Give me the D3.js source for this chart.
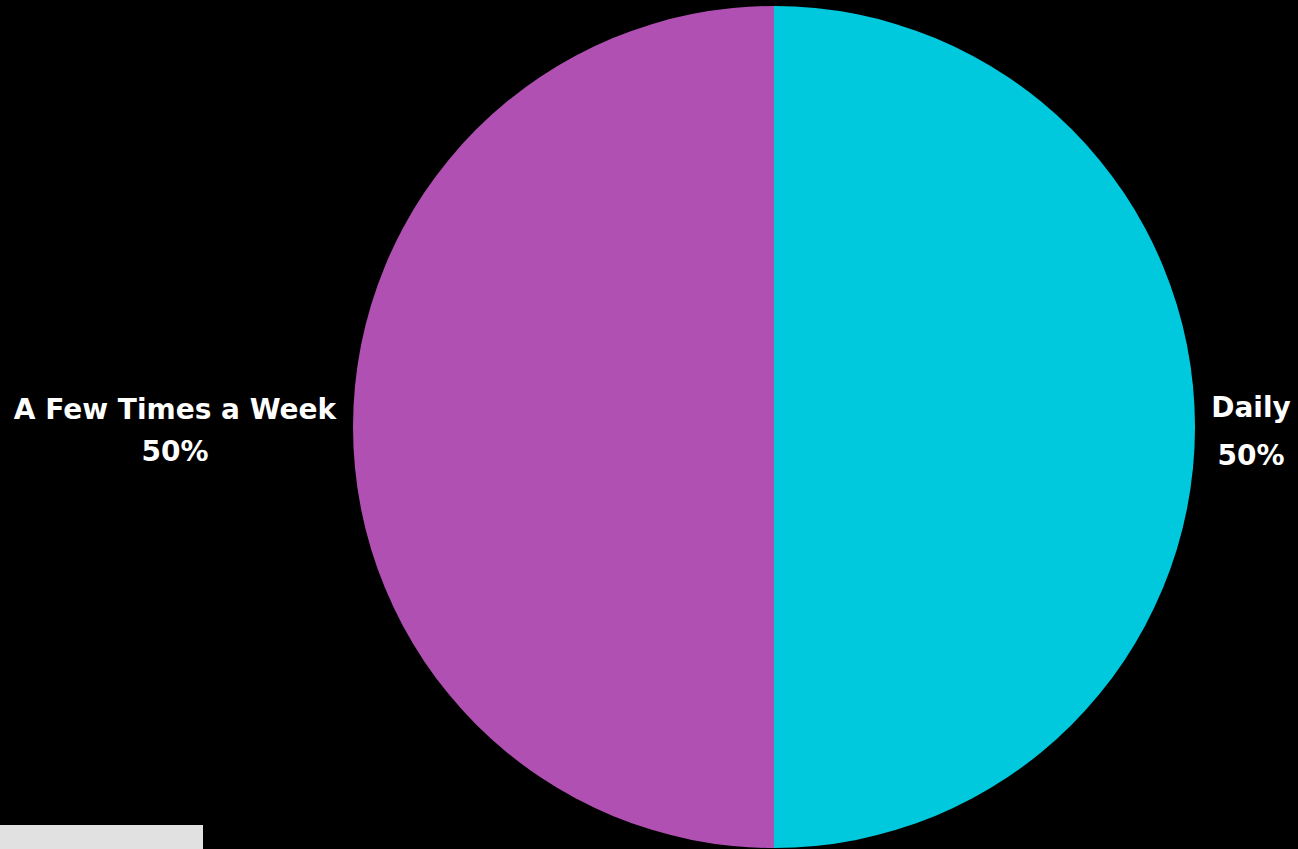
<!DOCTYPE html>
<html><head><meta charset="utf-8">
<script src="https://cdn.jsdelivr.net/npm/d3@7"></script>
<style>html,body{margin:0;padding:0;background:#000;overflow:hidden}</style>
</head><body>
<svg id="c" width="1298" height="849"></svg>
<script>
const categories = ["Daily", "A Few Times a Week"];
const values = [50, 50];
const colors = ["#00c9dd", "#b050b2"];

const svg = d3.select("#c");
svg.append("rect").attr("width",1298).attr("height",849).attr("fill","#000");
svg.append("rect").attr("x",0).attr("y",825).attr("width",203).attr("height",24).attr("fill","#e1e1e1");

const cx = 774, cy = 427, r = 421;
const pie = d3.pie().sort(null).value(d=>d.v);
const data = categories.map((c,i)=>({c, v: values[i], col: colors[i]}));
const arcs = pie(data);
const arc = d3.arc().innerRadius(0).outerRadius(r);
const g = svg.append("g").attr("transform",`translate(${cx},${cy})`);
g.selectAll("path").data(arcs).join("path").attr("d",arc).attr("fill",d=>d.data.col);

const total = d3.sum(values);
const labelPos = [{x:1251, y:417, gap:48}, {x:175, y:419, gap:42}];
const lab = svg.append("g").attr("font-family","'DejaVu Sans', sans-serif").attr("font-weight","bold").attr("font-size",28).attr("fill","#fff").attr("text-anchor","middle");
arcs.forEach((a,i)=>{
  const t = lab.append("text").attr("x",labelPos[i].x).attr("y",labelPos[i].y);
  t.append("tspan").attr("x",labelPos[i].x).text(a.data.c);
  t.append("tspan").attr("x",labelPos[i].x).attr("dy",labelPos[i].gap).text(d3.format(".0%")(a.data.v/total));
});
</script>
</body></html>
